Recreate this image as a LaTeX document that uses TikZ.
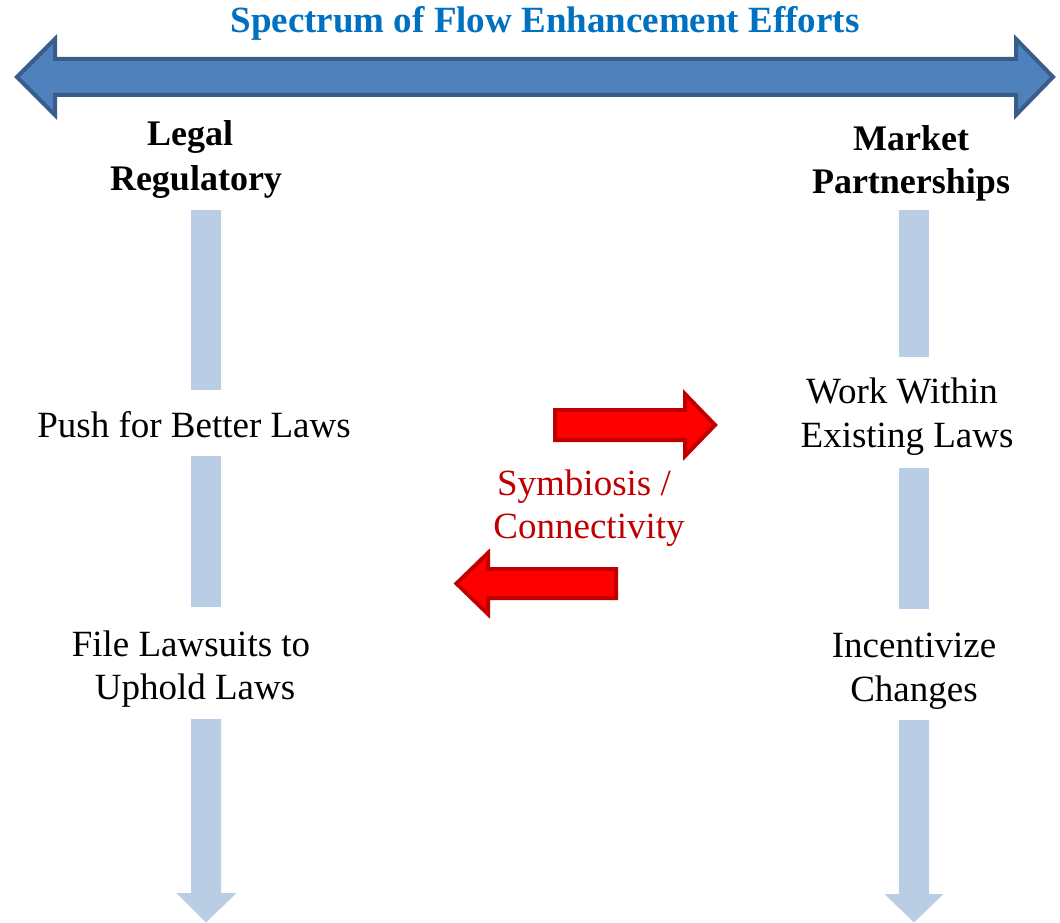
\documentclass[tikz,border=0pt]{standalone}
\usepackage{fontspec}
\setmainfont{Liberation Serif}
\definecolor{titleblue}{HTML}{0070C0}
\definecolor{bigfill}{HTML}{4F81BD}
\definecolor{bigline}{HTML}{385D8A}
\definecolor{barblue}{HTML}{B9CDE5}
\definecolor{redfill}{HTML}{FF0000}
\definecolor{redline}{HTML}{C00000}
\tikzset{
  txt/.style={inner sep=0pt, anchor=base, font=\fontsize{37}{44}\selectfont},
  head/.style={inner sep=0pt, anchor=base, font=\fontsize{36}{44}\selectfont\bfseries},
  ttl/.style={inner sep=0pt, anchor=base, text=titleblue, font=\fontsize{37}{44}\selectfont\bfseries},
  sym/.style={txt, text=redline},
  bigarrow/.style={fill=bigfill, draw=bigline, line width=4pt, line join=miter},
  bar/.style={fill=barblue, draw=none},
  redarrow/.style={fill=redfill, draw=redline, line width=4pt, line join=miter}
}
\begin{document}
\begin{tikzpicture}[x=1pt,y=-1pt]
\useasboundingbox (0,0) rectangle (1060,923);
% top double arrow
\draw[bigarrow] (17,77) -- (55,39) -- (55,59) -- (1016,59) -- (1016,39) -- (1053,77)
  -- (1016,115) -- (1016,95) -- (55,95) -- (55,115) -- cycle;
\node[ttl] (title) at (545,33) {Spectrum of Flow Enhancement Efforts};
% headers
\node[head] (legal) at (190,146) {Legal};
\node[head] (regulatory) at (196,190) {Regulatory};
\node[head] (market) at (911,150) {Market};
\node[head] (partnerships) at (911,193) {Partnerships};
% left column bars
\fill[bar] (191,210) rectangle (221,390);
\fill[bar] (191,456) rectangle (221,607);
\fill[bar] (191,719) -- (221,719) -- (221,893) -- (236.5,893) -- (206,922.5) -- (176.5,893) -- (191,893) -- cycle;
% right column bars
\fill[bar] (899,210) rectangle (929,357);
\fill[bar] (899,468) rectangle (929,609);
\fill[bar] (899,720) -- (929,720) -- (929,894) -- (943.5,894) -- (914,922.5) -- (884.5,894) -- (899,894) -- cycle;
% left texts
\node[txt] (push) at (194,437) {Push for Better Laws};
\node[txt] (file) at (191,656) {File Lawsuits to};
\node[txt] (uphold) at (195,699) {Uphold Laws};
% right texts
\node[txt] (work) at (902,403) {Work Within};
\node[txt] (existing) at (907,447) {Existing Laws};
\node[txt] (incent) at (914,657) {Incentivize};
\node[txt] (changes) at (914,701) {Changes};
% red arrows
\draw[redarrow] (555,410) -- (685,410) -- (685,394) -- (715,425) -- (685,456)
  -- (685,440) -- (555,440) -- cycle;
\draw[redarrow] (616,569) -- (488,569) -- (488,553) -- (456.5,583.5) -- (488,614)
  -- (488,598) -- (616,598) -- cycle;
\node[sym] (symb) at (584,495) {Symbiosis /};
\node[sym] (conn) at (589,538) {Connectivity};
\end{tikzpicture}
\end{document}
